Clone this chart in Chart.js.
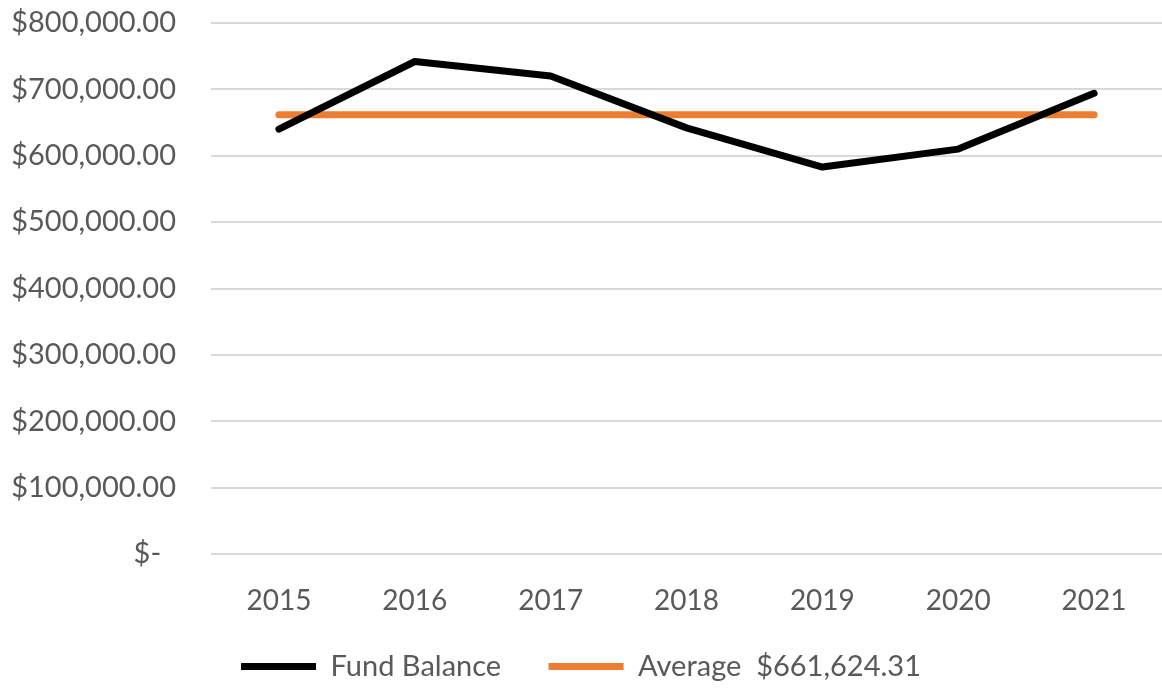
<!DOCTYPE html>
<html>
<head>
<meta charset="utf-8">
<script src="https://cdn.jsdelivr.net/npm/chart.js@4/dist/chart.umd.min.js"></script>
<style>
  body { margin: 0; background: #fff; }
  #grafico { display: block; }
</style>
</head>
<body>
<canvas id="grafico" width="1162" height="691"></canvas>
<script>
const years = ['2015', '2016', '2017', '2018', '2019', '2020', '2021'];
const fundBalance = [640000, 742000, 720000, 642000, 583000, 610000, 694000];
const averageValue = [661624.31, 661624.31, 661624.31, 661624.31, 661624.31, 661624.31, 661624.31];
const seriesNames = ['Fund Balance ', 'Average  $661,624.31'];

const fuente = 'Lato, "DejaVu Sans", sans-serif';
const gris = '#595959';

function formatoPesos(v) {
    if (v === 0) return '$-  ';
    return '$' + v.toLocaleString('en-US', { minimumFractionDigits: 2, maximumFractionDigits: 2 });
}

const canvasGrafico = document.getElementById('grafico');

new Chart(canvasGrafico, {
    type: 'line',
    data: {
        labels: years,
        datasets: [
            {
                label: seriesNames[0],
                data: fundBalance,
                borderColor: '#000000',
                backgroundColor: '#000000',
                borderWidth: 7,
                borderCapStyle: 'round',
                borderJoinStyle: 'round',
                pointRadius: 0,
                tension: 0
            },
            {
                label: seriesNames[1],
                data: averageValue,
                borderColor: '#ED7D31',
                backgroundColor: '#ED7D31',
                borderWidth: 7,
                borderCapStyle: 'round',
                pointRadius: 0,
                tension: 0
            }
        ]
    },
    options: {
        responsive: false,
        animation: false,
        layout: { padding: { top: 0, right: 0, left: 0, bottom: 0 } },
        scales: {
            x: {
                offset: true,
                grid: { display: false },
                border: { display: false },
                ticks: {
                    color: gris,
                    font: { family: fuente, size: 28 },
                    padding: 22,
                    maxRotation: 0
                },
                afterFit: (scale) => { scale.height = 58; }
            },
            y: {
                min: 0,
                max: 800000,
                ticks: {
                    stepSize: 100000,
                    color: gris,
                    font: { family: fuente, size: 29 },
                    padding: 35,
                    callback: (v) => formatoPesos(v)
                },
                grid: { color: '#D9D9D9', lineWidth: 2, drawTicks: false },
                border: { display: false },
                afterFit: (scale) => {
                    scale.width = 211;
                    scale.paddingTop = 23;
                    scale.paddingBottom = 0;
                }
            }
        },
        plugins: {
            legend: {
                display: true,
                position: 'bottom',
                labels: {
                    usePointStyle: true,
                    pointStyle: 'line',
                    pointStyleWidth: 75,
                    color: gris,
                    font: { family: fuente, size: 29 },
                    padding: 40
                }
            },
            tooltip: { enabled: false }
        }
    }
});
</script>
</body>
</html>
